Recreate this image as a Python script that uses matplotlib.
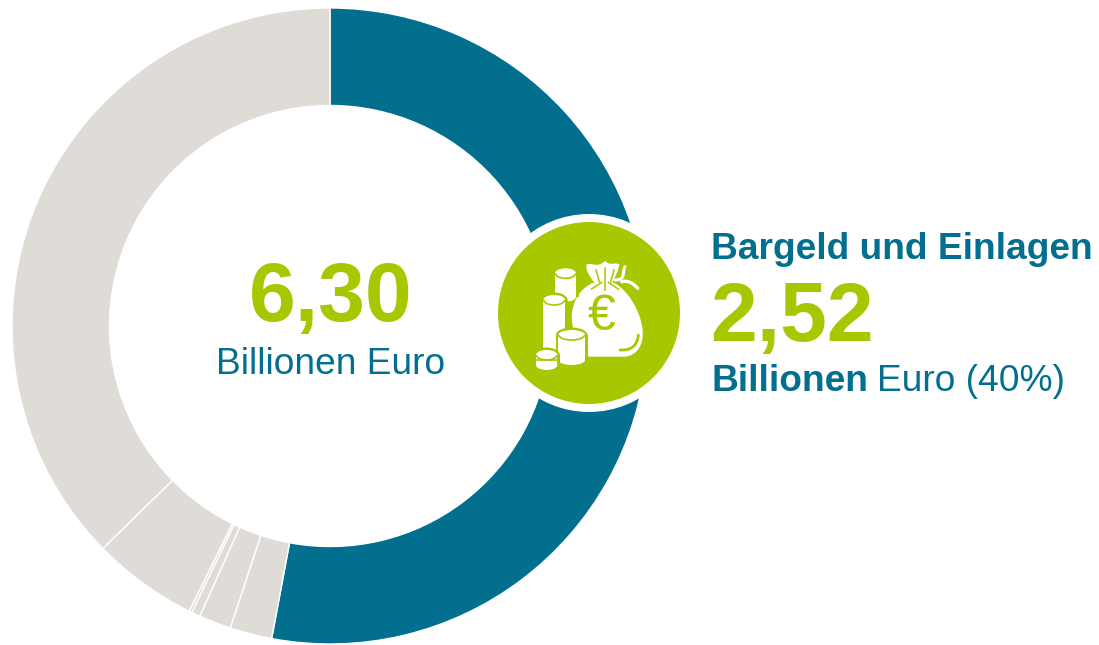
import matplotlib
matplotlib.use("Agg")
import matplotlib.pyplot as plt
from matplotlib.patches import Circle, Ellipse, Rectangle, PathPatch, Arc
from matplotlib.path import Path

W = 1099
H = 645

# slice sizes in Billionen Euro as drawn, clockwise from the top
slice_values = [3.335, 0.135, 0.103, 0.028, 0.009, 0.338, 2.352]
TEAL = "#026F8F"
GREY = "#DFDCD8"
GREEN = "#A8C700"
slice_colors = [TEAL, GREY, GREY, GREY, GREY, GREY, GREY]

center_value = "6,30"
center_unit = "Billionen Euro"
callout_title = "Bargeld und Einlagen"
callout_value = "2,52"
callout_unit_bold = "Billionen"
callout_unit_rest = "Euro (40%)"

plt.rcParams['font.family'] = ['Liberation Sans', 'DejaVu Sans']

fig = plt.figure(figsize=(W / 100, H / 100), dpi=100)
ax = fig.add_axes([0, 0, 1, 1])


def fy(y):
    # picture y runs downwards, axes y upwards
    return H - y


def zx(x):
    # icon outline was measured in a 3x crop starting at (490,205)
    return 490 + x / 3


def zy(y):
    return H - (205 + y / 3)


ax.pie(slice_values, colors=slice_colors, startangle=90, counterclock=False,
       center=(330, fy(326)), radius=318,
       wedgeprops=dict(width=97.5, edgecolor="white", linewidth=1))

# badge
ax.add_patch(Circle((589, fy(313)), 99, fc="white", ec="none", zorder=3))
ax.add_patch(Circle((589, fy(313)), 91, fc=GREEN, ec="none", zorder=4))


def cylinder(x0, x1, ytop, ybot, z):
    w = (x1 - x0) / 3
    cx = zx((x0 + x1) / 2)
    hh = 30 / 3
    # green halo so the cylinder stands off what is behind it
    ax.add_patch(Rectangle((zx(x0) - 2.5, zy(ybot)), w + 5, (ybot - ytop) / 3, fc=GREEN, ec="none", zorder=z))
    ax.add_patch(Ellipse((cx, zy(ytop)), w + 5, hh + 5, fc=GREEN, ec="none", zorder=z))
    ax.add_patch(Rectangle((zx(x0), zy(ybot)), w, (ybot - ytop) / 3, fc="white", ec="none", zorder=z + 0.1))
    ax.add_patch(Ellipse((cx, zy(ybot)), w, hh, fc="white", ec="none", zorder=z + 0.1))
    ax.add_patch(Ellipse((cx, zy(ytop)), w, hh, fc="white", ec="none", zorder=z + 0.1))
    ax.add_patch(Arc((cx, zy(ytop)), w - 1, hh, theta1=180, theta2=360, ec=GREEN, lw=1.2, zorder=z + 0.2))


def curve(points, fc="white", ec="none", lw=0, z=5):
    # points: start, then triples of cubic bezier control points
    verts = [(zx(x), zy(y)) for x, y in points]
    codes = [Path.MOVETO] + [Path.CURVE4] * (len(verts) - 1)
    ax.add_patch(PathPatch(Path(verts, codes), fc=fc, ec=ec, lw=lw, zorder=z, capstyle="round"))


# money bag
curve([(305, 235), (275, 250), (250, 280), (245, 330),
       (245, 380), (270, 455), (300, 455),
       (330, 455), (370, 455), (400, 455),
       (440, 455), (462, 420), (458, 375),
       (450, 310), (410, 255), (375, 235),
       (350, 228), (330, 228), (305, 235)], z=5)
# bag neck and frill
curve([(312, 232), (300, 215), (285, 195), (290, 178),
       (310, 172), (320, 190), (345, 168),
       (365, 185), (370, 170), (388, 178),
       (385, 200), (375, 215), (368, 232),
       (350, 238), (330, 238), (312, 232)], z=5.1)
for x0, y0, x1, y1 in [(318, 195, 328, 230), (345, 190, 345, 255), (372, 195, 362, 230),
                       (305, 252, 335, 232), (385, 252, 355, 232)]:
    ax.plot([zx(x0), zx(x1)], [zy(y0), zy(y1)], color=GREEN, lw=1.1, zorder=5.2)
# tie string
curve([(375, 225), (410, 225), (395, 200), (405, 185)], fc="none", ec="white", lw=2.2, z=5.1)
curve([(395, 230), (415, 225), (430, 235), (443, 250)], fc="none", ec="white", lw=2.4, z=5.1)
# fold at the bag's lower right
curve([(390, 435), (420, 437), (442, 425), (445, 390)], fc="none", ec=GREEN, lw=2, z=5.2)
ax.text(zx(335), zy(335), "\u20ac", color=GREEN, fontsize=36, ha="center", va="center", zorder=5.3)

# coin stacks
cylinder(195, 258, 205, 275, 6)
cylinder(160, 225, 285, 430, 7)
cylinder(205, 285, 390, 465, 8)
cylinder(138, 202, 450, 480, 9)
ax.plot([zx(140), zx(200)], [zy(465), zy(465)], color=GREEN, lw=1.2, zorder=9.5)

# centre text
ax.text(330.5, fy(320.5), center_value, color=GREEN, fontsize=60.5, fontweight="bold", ha="center", va="baseline")
ax.text(331, fy(374.5), center_unit, color=TEAL, fontsize=26.7, ha="center", va="baseline")

# callout text
ax.text(711, fy(259), callout_title, color=TEAL, fontsize=26.7, fontweight="bold", ha="left", va="baseline")
ax.text(710, fy(341), callout_value, color=GREEN, fontsize=60.5, fontweight="bold", ha="left", va="baseline")
ax.text(711, fy(391), callout_unit_bold, color=TEAL, fontsize=26.7, fontweight="bold", ha="left", va="baseline")
ax.text(877, fy(391), callout_unit_rest, color=TEAL, fontsize=26.7, ha="left", va="baseline")

ax.set_xlim(0, W)
ax.set_ylim(0, H)
ax.set_aspect("equal")
ax.axis("off")

fig.savefig("out.png", dpi=100)
